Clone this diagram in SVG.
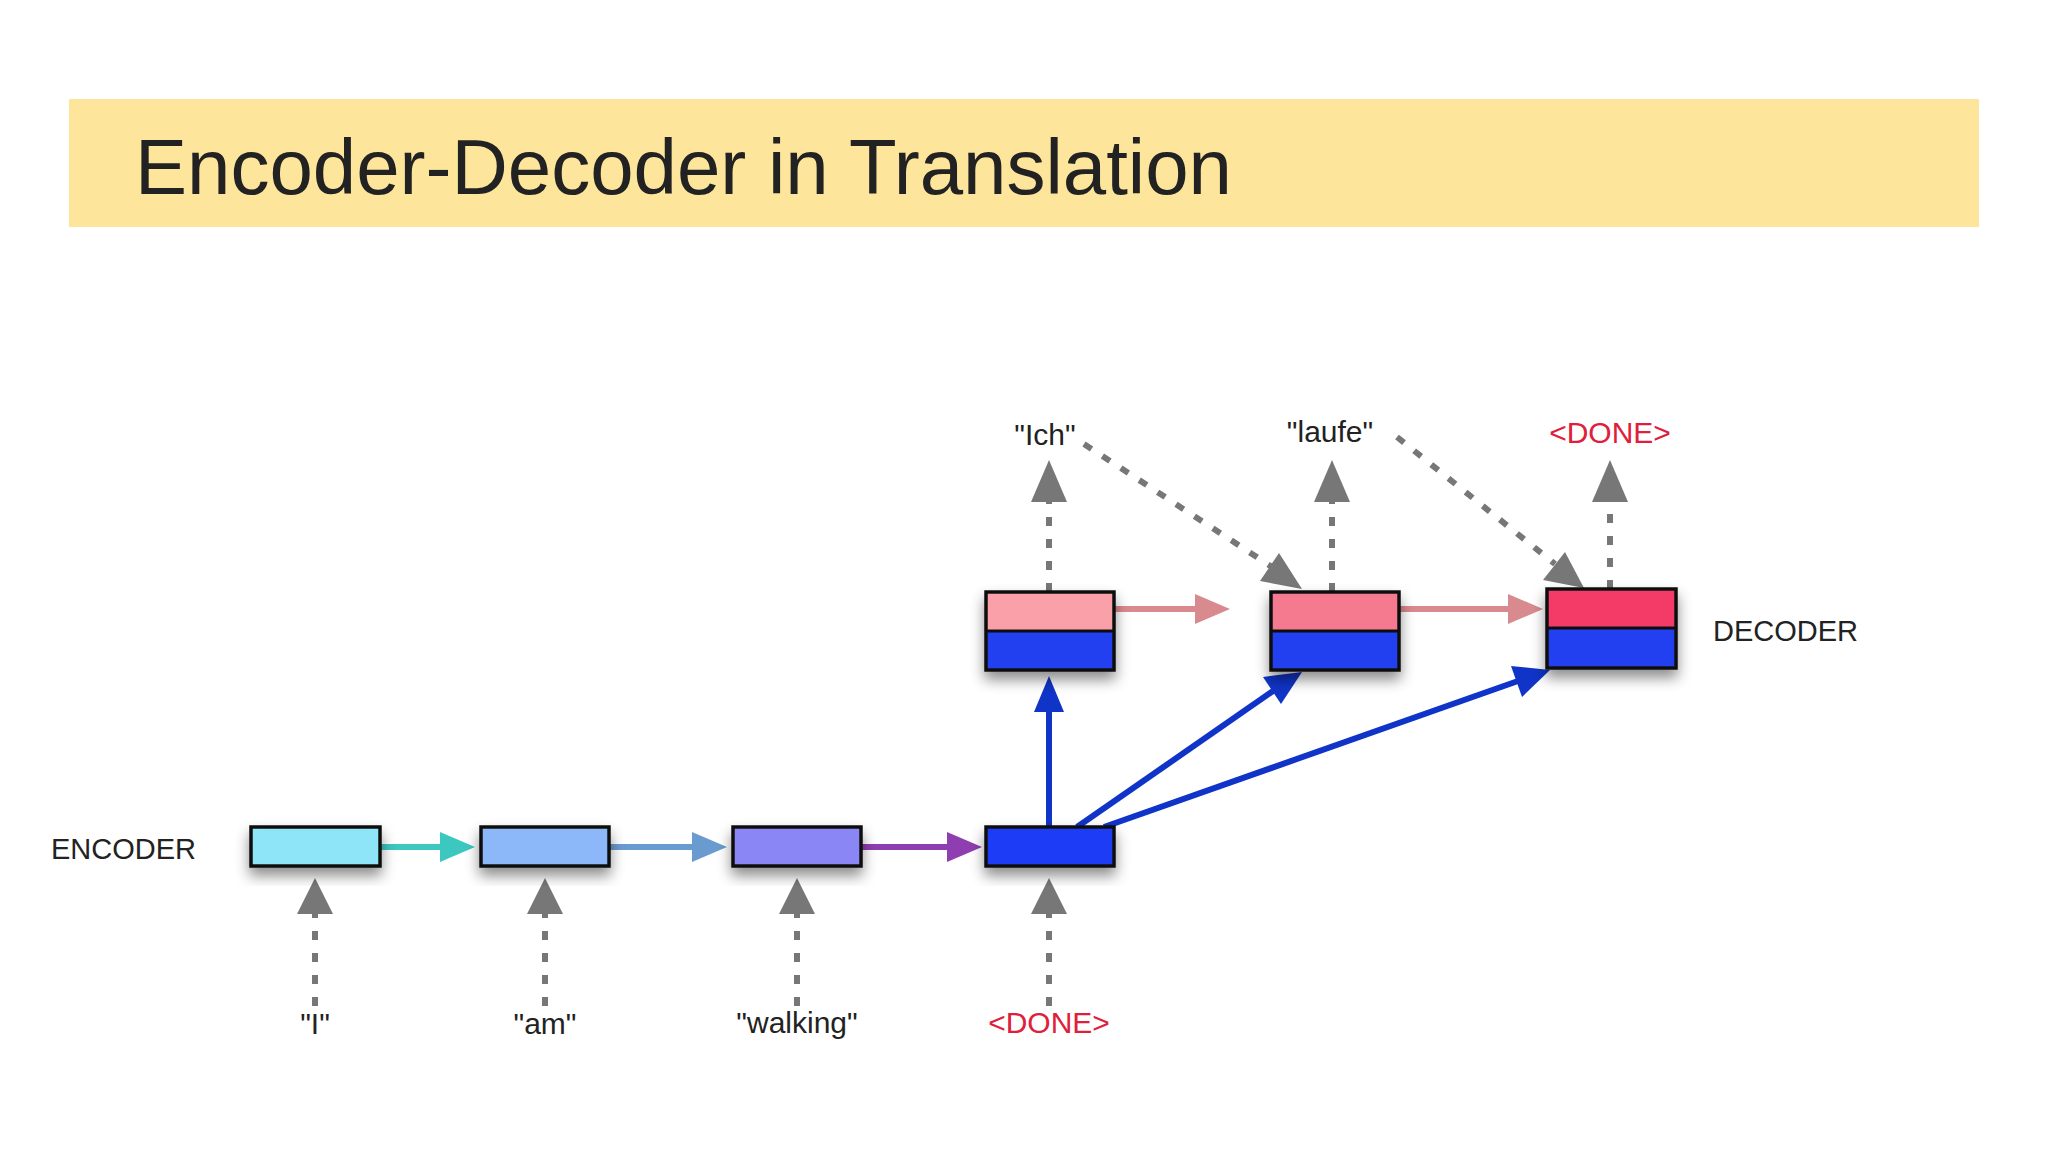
<svg xmlns="http://www.w3.org/2000/svg" width="2048" height="1152" viewBox="0 0 2048 1152">
<defs>
<style>
.t{font-family:"Liberation Sans",Arial,sans-serif;fill:#222}
.lbl{font-size:30px;text-anchor:middle}
.red{fill:#E0203A}
.box{stroke:#111;stroke-width:3.5}
.dash{stroke:#777;stroke-width:6;stroke-dasharray:9 13;fill:none}
</style>
<filter id="sh" x="-30%" y="-30%" width="160%" height="180%"><feDropShadow dx="0" dy="8" stdDeviation="7" flood-color="#000" flood-opacity="0.45"/></filter>
<marker id="ag" viewBox="0 0 10 10" refX="9" refY="5" markerWidth="6" markerHeight="6" markerUnits="strokeWidth" orient="auto"><path d="M0,0L10,5L0,10z" fill="#777"/></marker>
<marker id="at" viewBox="0 0 10 10" refX="9" refY="5" markerWidth="8" markerHeight="8" markerUnits="userSpaceOnUse" orient="auto"><path d="M0,0L10,5L0,10z" fill="#3CC8C0"/></marker>
</defs>
<rect width="2048" height="1152" fill="#fff"/>
<rect x="69" y="99" width="1910" height="128" fill="#FDE59C"/>
<text class="t" x="135" y="194" font-size="78" fill="#111">Encoder-Decoder  in Translation</text>
<text class="t" x="51" y="859" font-size="29">ENCODER</text>
<text class="t" x="1713" y="641" font-size="29">DECODER</text>
<g id="connectors">
<g fill="none" stroke-width="6">
<line x1="380" y1="847" x2="440" y2="847" stroke="#3CC8C0"/><path d="M440,832L475,847L440,862z" fill="#3CC8C0" stroke="none"/>
<line x1="609" y1="847" x2="692" y2="847" stroke="#6A9BD0"/><path d="M692,832L727,847L692,862z" fill="#6A9BD0" stroke="none"/>
<line x1="861" y1="847" x2="947" y2="847" stroke="#8E3EB0"/><path d="M947,832L982,847L947,862z" fill="#8E3EB0" stroke="none"/>
<line x1="1114" y1="609" x2="1195" y2="609" stroke="#D98A8E"/><path d="M1195,594L1230,609L1195,624z" fill="#D98A8E" stroke="none"/>
<line x1="1399" y1="609" x2="1508" y2="609" stroke="#D98A8E"/><path d="M1508,594L1543,609L1508,624z" fill="#D98A8E" stroke="none"/>
<line x1="1049" y1="827" x2="1049" y2="710" stroke="#1034C8"/><path d="M1034,712L1049,676L1064,712z" fill="#1034C8" stroke="none"/>
<line x1="1077" y1="827" x2="1273" y2="691" stroke="#1034C8"/><path d="M1263,677L1302,672L1281,704z" fill="#1034C8" stroke="none"/>
<line x1="1104" y1="827" x2="1518" y2="681" stroke="#1034C8"/><path d="M1511,666L1550,670L1522,697z" fill="#1034C8" stroke="none"/>
</g>
<g class="dash">
<line x1="315" y1="1006" x2="315" y2="912"/><line x1="545" y1="1006" x2="545" y2="912"/><line x1="797" y1="1006" x2="797" y2="912"/><line x1="1049" y1="1006" x2="1049" y2="912"/>
<line x1="1049" y1="592" x2="1049" y2="500"/><line x1="1332" y1="592" x2="1332" y2="500"/><line x1="1610" y1="589" x2="1610" y2="500"/>
<line x1="1084" y1="444" x2="1272" y2="567"/><line x1="1397" y1="437" x2="1555" y2="564"/>
</g>
<g fill="#777">
<path d="M297,914L315,878L333,914z"/><path d="M527,914L545,878L563,914z"/><path d="M779,914L797,878L815,914z"/><path d="M1031,914L1049,878L1067,914z"/>
<path d="M1031,502L1049,460L1067,502z"/><path d="M1314,502L1332,460L1350,502z"/><path d="M1592,502L1610,460L1628,502z"/>
<path d="M1260,581L1302,589L1279,553z"/><path d="M1543,580L1584,588L1565,552z"/>
</g>
</g>
<g id="enc1" filter="url(#sh)"><rect class="box" x="251" y="827" width="129" height="39" fill="#8EE5F8"/></g>
<g id="enc2" filter="url(#sh)"><rect class="box" x="481" y="827" width="128" height="39" fill="#8CB8FA"/></g>
<g id="enc3" filter="url(#sh)"><rect class="box" x="733" y="827" width="128" height="39" fill="#8A86F5"/></g>
<g id="enc4" filter="url(#sh)"><rect class="box" x="986" y="827" width="128" height="39" fill="#1E3CF5"/></g>
<g id="dec1" filter="url(#sh)"><rect x="986" y="592" width="128" height="39" fill="#F9A0A8"/><rect x="986" y="631" width="128" height="39" fill="#2040F0"/><rect class="box" x="986" y="592" width="128" height="78" fill="none"/><line x1="986" y1="631" x2="1114" y2="631" stroke="#111" stroke-width="3"/></g>
<g id="dec2" filter="url(#sh)"><rect x="1271" y="592" width="128" height="39" fill="#F57A90"/><rect x="1271" y="631" width="128" height="39" fill="#2040F0"/><rect class="box" x="1271" y="592" width="128" height="78" fill="none"/><line x1="1271" y1="631" x2="1399" y2="631" stroke="#111" stroke-width="3"/></g>
<g id="dec3" filter="url(#sh)"><rect x="1547" y="589" width="129" height="39" fill="#F43A68"/><rect x="1547" y="628" width="129" height="40" fill="#2040F0"/><rect class="box" x="1547" y="589" width="129" height="79" fill="none"/><line x1="1547" y1="628" x2="1676" y2="628" stroke="#111" stroke-width="3"/></g>
<g id="labels">
<text class="t lbl" x="315" y="1034">"I"</text>
<text class="t lbl" x="545" y="1034">"am"</text>
<text class="t lbl" x="797" y="1033">"walking"</text>
<text class="t lbl red" x="1049" y="1033">&lt;DONE&gt;</text>
<text class="t lbl" x="1045" y="445">"Ich"</text>
<text class="t lbl" x="1330" y="442">"laufe"</text>
<text class="t lbl red" x="1610" y="443">&lt;DONE&gt;</text>
</g>
</svg>
